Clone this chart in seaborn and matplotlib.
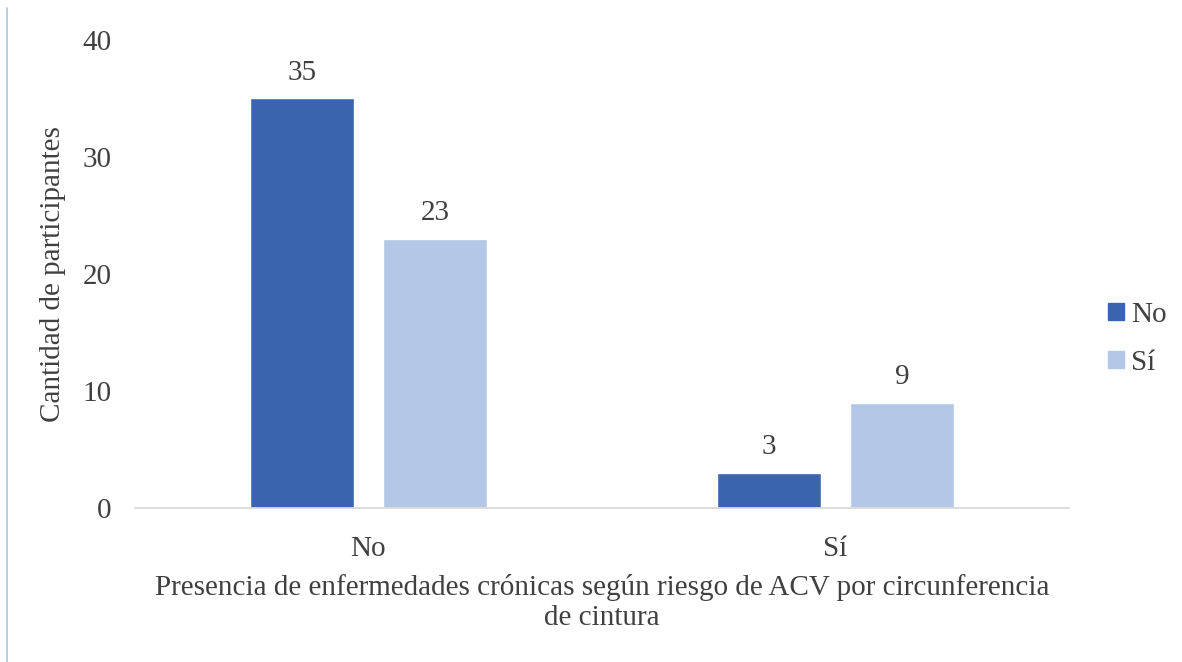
import matplotlib
matplotlib.use("Agg")
import matplotlib.pyplot as plt
import seaborn as sns
import pandas as pd
from matplotlib.lines import Line2D

categories = ["No", "Sí"]
hue_levels = ["No", "Sí"]
values_no = [35, 3]
values_si = [23, 9]

rows = []
for c, vn, vs in zip(categories, values_no, values_si):
    rows.append({"cat": c, "hue": "No", "val": vn})
    rows.append({"cat": c, "hue": "Sí", "val": vs})
df = pd.DataFrame(rows)

sns.set_style("white")
plt.rcParams['font.family'] = ['Liberation Serif', 'DejaVu Serif']
text_color = "#404040"
fs = 21

fig = plt.figure(figsize=(11.82, 6.62), dpi=100)
ax = fig.add_axes([0.1142, 0.2326, 0.7902, 0.707])

palette = {"No": "#3a64ad", "Sí": "#b4c7e7"}
sns.barplot(data=df, x="cat", y="val", hue="hue", order=categories,
            hue_order=hue_levels, palette=palette, width=0.57, gap=0.218,
            saturation=1, ax=ax, legend=False, errorbar=None)

for cont in ax.containers:
    ax.bar_label(cont, padding=9, fontsize=fs, color=text_color)

ax.set_ylim(0, 40)
ax.set_xlim(-0.5, 1.5)
ax.set_yticks([0, 10, 20, 30, 40])
ax.tick_params(axis='both', length=0, labelsize=fs, colors=text_color)
ax.tick_params(axis='y', pad=17)
ax.tick_params(axis='x', pad=20)
for s in ["top", "right", "left"]:
    ax.spines[s].set_visible(False)
ax.spines["bottom"].set_color("#d9d9d9")
ax.spines["bottom"].set_linewidth(1.3)

ax.set_ylabel("Cantidad de participantes", fontsize=fs, color=text_color, labelpad=12)
ax.set_xlabel("Presencia de enfermedades crónicas según riesgo de ACV por circunferencia\nde cintura",
              fontsize=fs, color=text_color, labelpad=9, linespacing=1.2)

handles = [plt.Rectangle((0, 0), 1, 1, color=palette[h]) for h in hue_levels]
fig.legend(handles, hue_levels, loc="center left", bbox_to_anchor=(1108 / 1182, 0.488),
           frameon=False, fontsize=fs, labelcolor=text_color, handlelength=0.55,
           handleheight=0.55, handletextpad=0.25, labelspacing=0.75,
           borderpad=0, borderaxespad=0)

fig.add_artist(Line2D([7 / 1182, 7 / 1182], [0, 1 - 8 / 662], transform=fig.transFigure,
                      color="#a9c4eb", linewidth=1.2))

fig.savefig("out.png", dpi=100)
